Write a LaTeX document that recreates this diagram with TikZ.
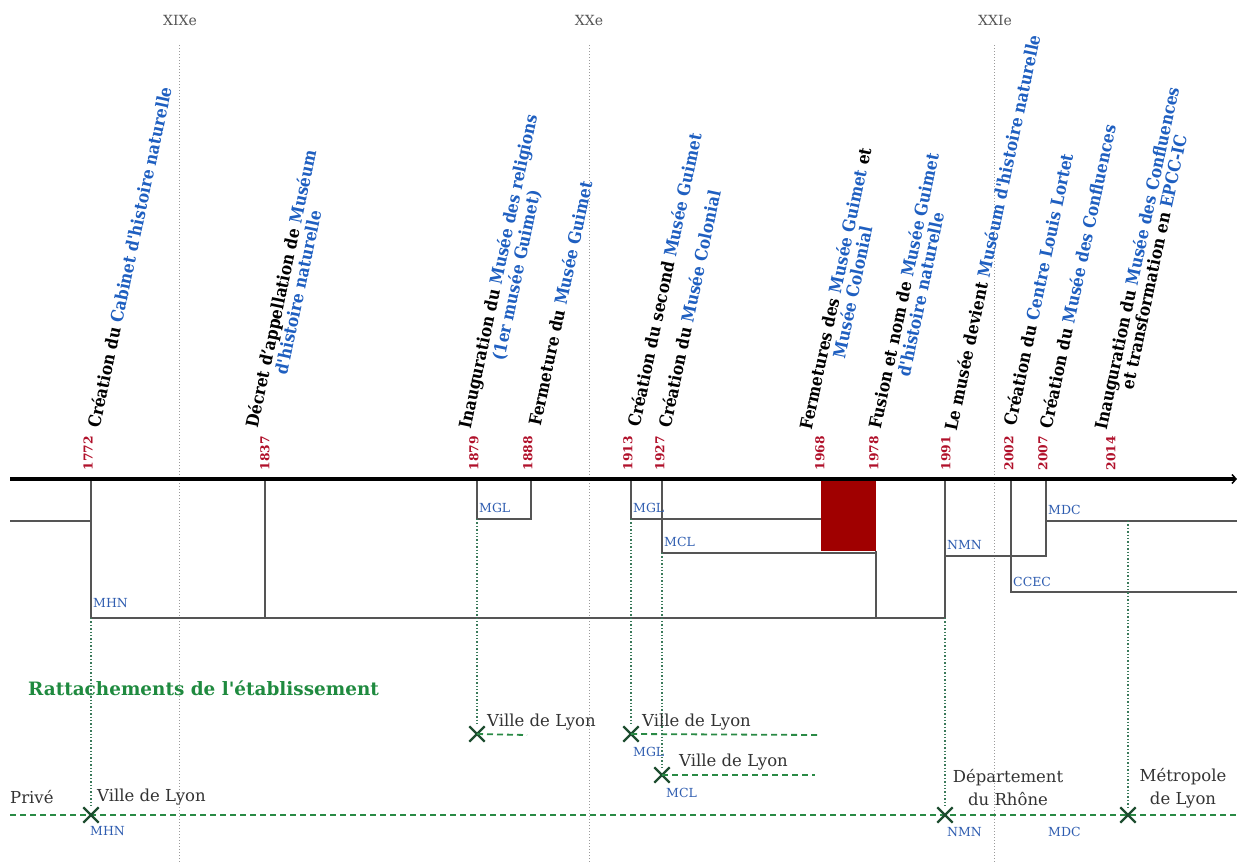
\documentclass[tikz,border=0pt]{standalone}
\usepackage{fontspec}
\setmainfont{DejaVu Serif}
\newfontfamily\evfont[Extension=.ttf, UprightFont=DejaVuSerifCondensed, BoldFont=DejaVuSerifCondensed-Bold]{DejaVuSerifCondensed}
\usetikzlibrary{shapes.misc,arrows.meta}
\definecolor{evblue}{HTML}{1F5FC0}
\definecolor{abblue}{HTML}{2F5DB0}
\definecolor{yearred}{HTML}{B0102A}
\definecolor{boxred}{HTML}{A00000}
\definecolor{linegray}{HTML}{555555}
\definecolor{centgray}{HTML}{9A9A9A}
\definecolor{titlegreen}{HTML}{1F8A3F}
\definecolor{dashgreen}{HTML}{2A8A45}
\definecolor{xgreen}{HTML}{1E4D30}
\definecolor{dotgreen}{HTML}{3A7A5A}
\definecolor{txtgray}{HTML}{333333}
\newcommand{\bl}[1]{\textcolor{evblue}{#1}}
\newcommand{\sq}{\textquotesingle}
\begin{document}
\begin{tikzpicture}[x=1pt,y=-1pt,
  event/.style={rotate=78, anchor=north west, inner sep=0pt, align=center,
    font=\evfont\fontsize{17.2}{17.5}\selectfont\bfseries},
  yearlbl/.style={rotate=90, text=yearred, inner sep=0pt,
    font=\fontsize{12.3}{13}\selectfont\bfseries},
  century/.style={text=linegray, font=\fontsize{14}{15}\selectfont},
  centline/.style={centgray, dotted, line width=1pt},
  struct/.style={linegray, line width=1.8pt},
  abbr/.style={text=abblue, anchor=west, inner sep=0pt, font=\fontsize{12.5}{13}\selectfont},
  dotv/.style={dotgreen, dotted, line width=1.4pt},
  dashg/.style={dashgreen, dash pattern=on 6pt off 4pt, line width=1.8pt},
  xmark/.style={cross out, draw=xgreen, line width=2.3pt, minimum size=13pt, inner sep=0pt},
  place/.style={text=txtgray, anchor=west, inner sep=0pt, font=\fontsize{16.5}{19}\selectfont},
  placec/.style={text=txtgray, align=center, inner sep=0pt, font=\fontsize{16.5}{23}\selectfont}
]
\useasboundingbox (0,0) rectangle (1237,863);

% century lines
\node[century] (c19) at (180,20) {XIXe};
\node[century] (c20) at (589,20) {XXe};
\node[century] (c21) at (995,20) {XXIe};
\draw[centline] (179,45) -- (179,863);
\draw[centline] (589,45) -- (589,863);
\draw[centline] (994,45) -- (994,863);

% event labels
\node[event] (e1772) at (86,426) {Création du \bl{Cabinet d\sq histoire naturelle}};
\node[event] (e1837) at (244,426) {Décret d’appellation de \bl{Muséum}\\\bl{d\sq histoire naturelle}};
\node[event] (e1879) at (457,427) {Inauguration du \bl{Musée des religions}\\\bl{(1er musée Guimet)}};
\node[event] (e1888) at (527,424) {Fermeture du \bl{Musée Guimet}};
\node[event] (e1913) at (626,425) {Création du second \bl{Musée Guimet}};
\node[event] (e1927) at (657,426) {Création du \bl{Musée Colonial}};
\node[event] (e1968) at (798,428) {Fermetures des \bl{Musée Guimet} et\\\bl{Musée Colonial}};
\node[event] (e1978) at (867,427) {Fusion et nom de \bl{Musée Guimet}\\\bl{d\sq histoire naturelle}};
\node[event] (e1991) at (943,429) {Le musée devient \bl{Muséum d\sq histoire naturelle}};
\node[event] (e2002) at (1002,424) {Création du \bl{Centre Louis Lortet}};
\node[event] (e2007) at (1038,427) {Création du \bl{Musée des Confluences}};
\node[event] (e2014) at (1093,428) {Inauguration du \bl{Musée des Confluences}\\et transformation en \bl{EPCC-IC}};

% years
\node[yearlbl] (y1772) at (88,453) {1772};
\node[yearlbl] (y1837) at (265,453) {1837};
\node[yearlbl] (y1879) at (474,453) {1879};
\node[yearlbl] (y1888) at (528,453) {1888};
\node[yearlbl] (y1913) at (628,453) {1913};
\node[yearlbl] (y1927) at (660,453) {1927};
\node[yearlbl] (y1968) at (820,453) {1968};
\node[yearlbl] (y1978) at (874,453) {1978};
\node[yearlbl] (y1991) at (946,453) {1991};
\node[yearlbl] (y2002) at (1009,453) {2002};
\node[yearlbl] (y2007) at (1043,453) {2007};
\node[yearlbl] (y2014) at (1111,453) {2014};

% structure
\fill[boxred] (821,479) rectangle (876,551);
\draw[struct] (10,521) -- (91,521);
\draw[struct] (91,479) -- (91,618) -- (945,618);
\draw[struct] (265,479) -- (265,618);
\draw[struct] (477,479) -- (477,519) -- (531,519) -- (531,479);
\draw[struct] (631,479) -- (631,519) -- (821,519);
\draw[struct] (662,479) -- (662,553) -- (876,553);
\draw[struct] (876,551) -- (876,618);
\draw[struct] (945,479) -- (945,618);
\draw[struct] (945,556) -- (1046,556) -- (1046,479);
\draw[struct] (1011,479) -- (1011,592) -- (1237,592);
\draw[struct] (1046,521) -- (1237,521);

% main axis
\coordinate (axL) at (10,479);
\coordinate (axR) at (1237,479);
\draw[line width=3.5pt, -{Straight Barb[length=4pt,width=9pt,line width=1.5pt]}] (axL) -- (axR);

% abbreviations
\node[abbr] (aMHN) at (93,603) {MHN};
\node[abbr] (aMGL1) at (479,508) {MGL};
\node[abbr] (aMGL2) at (633,508) {MGL};
\node[abbr] (aMCL) at (664,542) {MCL};
\node[abbr] (aNMN) at (947,545) {NMN};
\node[abbr] (aCCEC) at (1013,582) {CCEC};
\node[abbr] (aMDC) at (1048,510) {MDC};

% attachments
\node[text=titlegreen, anchor=west, inner sep=0pt, font=\fontsize{18.4}{21}\selectfont\bfseries] (title) at (28,688) {Rattachements de l\sq établissement};

\coordinate (dL) at (10,815);
\coordinate (dR) at (1237,815);
\draw[dashg] (dL) -- (dR);

\node[xmark] (xMHN) at (91,815) {};
\node[xmark] (xMGL1) at (477,734) {};
\node[xmark] (xMGL2) at (631,734) {};
\node[xmark] (xMCL) at (662,775) {};
\node[xmark] (xNMN) at (945,815) {};
\node[xmark] (xMDC) at (1128,815) {};

\coordinate (eMGL1) at (527,735);
\coordinate (eMGL2) at (820,735);
\coordinate (eMCL) at (815,775);
\draw[dashg] (xMGL1.center) -- (eMGL1);
\draw[dashg] (xMGL2.center) -- (eMGL2);
\draw[dashg] (xMCL.center) -- (eMCL);

\draw[dotv] (91,618) -- (xMHN);
\draw[dotv] (477,519) -- (xMGL1);
\draw[dotv] (631,519) -- (xMGL2);
\draw[dotv] (662,553) -- (xMCL);
\draw[dotv] (945,618) -- (xNMN);
\draw[dotv] (1128,521) -- (xMDC);

\node[place] (pPrive) at (10,797) {Privé};
\node[place] (pV1) at (97,797) {Ville de Lyon};
\node[place] (pV2) at (487,722) {Ville de Lyon};
\node[place] (pV3) at (642,722) {Ville de Lyon};
\node[place] (pV4) at (679,762) {Ville de Lyon};
\node[placec] (pDep) at (1008,788) {Département\\du Rhône};
\node[placec] (pMet) at (1183,788) {Métropole\\de Lyon};

\node[abbr] (bMHN) at (90,831) {MHN};
\node[abbr] (bMGL) at (633,752) {MGL};
\node[abbr] (bMCL) at (666,793) {MCL};
\node[abbr] (bNMN) at (947,832) {NMN};
\node[abbr] (bMDC) at (1048,832) {MDC};
\end{tikzpicture}
\end{document}
